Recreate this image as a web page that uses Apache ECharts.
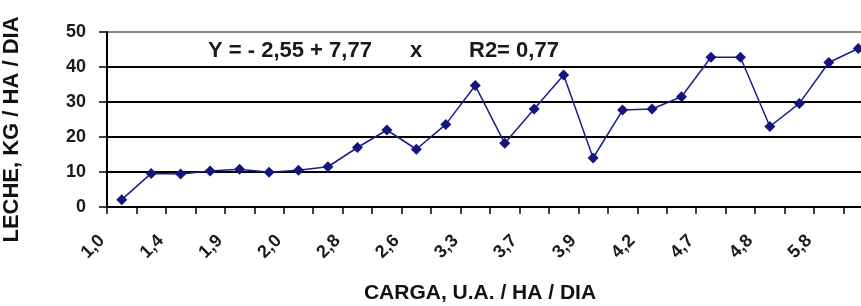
<!DOCTYPE html>
<html>
<head>
<meta charset="utf-8">
<script src="https://cdn.jsdelivr.net/npm/echarts@6/dist/echarts.min.js"></script>
<style>
  html, body { margin: 0; padding: 0; background: #fff; }
  #chart { width: 861px; height: 306px; }
</style>
</head>
<body>
<div id="chart"></div>
<script>
// tick labels shown on the x axis (every other category)
const tickLabels = ["1,0", "1,4", "1,9", "2,0", "2,8", "2,6", "3,3", "3,7", "3,9", "4,2", "4,7", "4,8", "5,8"];
// 26 categories, only even ones carry a visible label
const categories = [];
tickLabels.forEach((t) => { categories.push(t); categories.push(""); });

// milk production, kg / ha / day
const leche = [2.1, 9.6, 9.4, 10.3, 10.8, 9.9, 10.5, 11.5, 17.0, 22.0, 16.5,
  23.6, 34.7, 18.2, 28.0, 37.7, 14.0, 27.7, 28.0, 31.5, 42.8, 42.8, 23.0, 29.6, 41.3, 45.3];

const yTicks = [0, 10, 20, 30, 40, 50];

const FONT = "Liberation Sans, Arial, sans-serif";

const chart = echarts.init(document.getElementById("chart"));

const option = {
  backgroundColor: "#ffffff",
  animation: false,
  grid: {
    left: 107,
    right: -12,
    top: 32,
    bottom: 99,
    outerBoundsMode: "none",
  },
  xAxis: {
    type: "category",
    data: categories,
    boundaryGap: true,
    name: "CARGA, U.A. / HA / DIA",
    nameLocation: "middle",
    nameGap: 76,
    nameTextStyle: {
      fontFamily: FONT,
      fontSize: 21,
      fontWeight: "bold",
      color: "#111",
      padding: [0, 20, 0, 0],
    },
    axisLine: { lineStyle: { color: "#000", width: 2 } },
    axisTick: {
      show: true,
      alignWithLabel: false,
      interval: 0,
      length: 7,
      lineStyle: { color: "#000", width: 1.5 },
    },
    axisLabel: {
      interval: 1,
      rotate: 45,
      margin: 11,
      padding: [0, 28, 0, 0],
      fontFamily: FONT,
      fontSize: 18,
      fontWeight: "bold",
      color: "#1a1a1a",
    },
    splitLine: { show: false },
  },
  yAxis: {
    type: "value",
    min: yTicks[0],
    max: yTicks[yTicks.length - 1],
    interval: 10,
    name: "LECHE, KG / HA / DIA",
    nameLocation: "middle",
    nameRotate: 90,
    nameGap: 84,
    nameTextStyle: {
      fontFamily: FONT,
      fontSize: 22,
      fontWeight: "bold",
      color: "#111",
      padding: [0, 20, 0, 0],
    },
    axisLine: { show: true, lineStyle: { color: "#000", width: 2 } },
    axisTick: { show: true, length: 8, lineStyle: { color: "#000", width: 1.5 } },
    axisLabel: {
      margin: 21,
      fontFamily: FONT,
      fontSize: 18,
      fontWeight: "bold",
      color: "#1a1a1a",
    },
    splitLine: {
      show: true,
      lineStyle: {
        color: ["#000", "#000", "#000", "#000", "#000", "#8a8a8a"],
        width: 2,
      },
    },
  },
  graphic: [
    {
      type: "text",
      left: 208,
      top: 40,
      style: { text: "Y = - 2,55 + 7,77", fontFamily: FONT, fontSize: 22, fontWeight: "bold", fill: "#1a1a1a" },
    },
    {
      type: "text",
      left: 410,
      top: 40,
      style: { text: "x", fontFamily: FONT, fontSize: 22, fontWeight: "bold", fill: "#1a1a1a" },
    },
    {
      type: "text",
      left: 469,
      top: 40,
      style: { text: "R2= 0,77", fontFamily: FONT, fontSize: 22, fontWeight: "bold", fill: "#1a1a1a" },
    },
  ],
  series: [
    {
      name: "Leche",
      type: "line",
      data: leche,
      symbol: "diamond",
      symbolSize: 11,
      showAllSymbol: true,
      lineStyle: { color: "#1c1c8a", width: 1.5 },
      itemStyle: { color: "#14147f" },
    },
  ],
};

chart.setOption(option);
</script>
</body>
</html>
